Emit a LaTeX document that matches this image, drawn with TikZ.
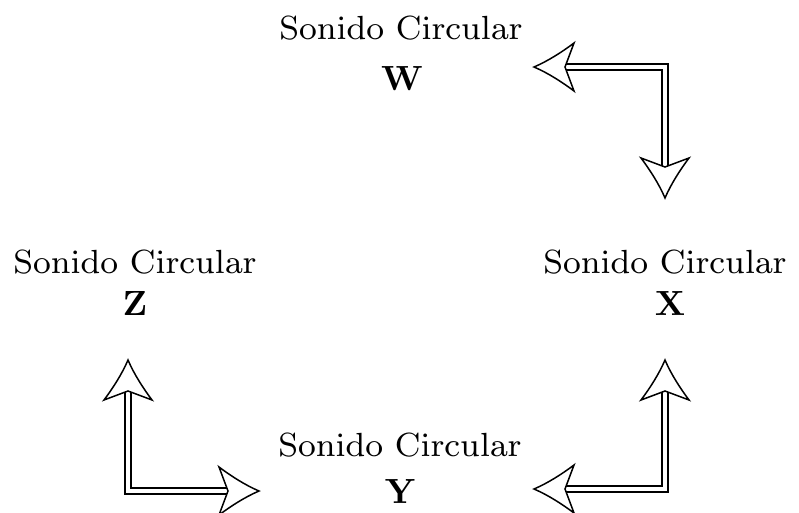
\documentclass[tikz,border=0pt]{standalone}
\font\sonfont=cmr8 at 33.5pt
\font\letfont=cmbx10 at 35pt
\tikzset{
  lab/.style={inner sep=0pt, anchor=base, font=\sonfont},
  let/.style={inner sep=0pt, anchor=base, font=\letfont},
  shaft/.style={draw=black, line width=1.5pt, double=white, double distance=4.2pt, line join=miter, shorten <=31pt, shorten >=31pt},
  pics/arrowhd/.style={code={
    \draw[line width=1.5pt, fill=white, line join=miter]
      (0,0) .. controls (-14,6) and (-28,15) .. (-40,24) -- (-31,0) -- (-40,-24)
      .. controls (-28,-15) and (-14,-6) .. cycle;
  }}
}
\begin{document}
\begin{tikzpicture}[x=1pt, y=-1pt]
\useasboundingbox (0,0) rectangle (799,512);
\node[lab] (wlab) at (401,39) {Sonido Circular};
\node[let] (wlet) at (402,90) {W};
\node[lab] (zlab) at (135,273) {Sonido Circular};
\node[let] (zlet) at (135,315) {Z};
\node[lab] (xlab) at (665,273) {Sonido Circular};
\node[let] (xlet) at (670,315) {X};
\node[lab] (ylab) at (400,456) {Sonido Circular};
\node[let] (ylet) at (400,503) {Y};
% arrow tips
\coordinate (wa) at (534,67);
\coordinate (xa) at (665,198);
\coordinate (ya) at (534,489);
\coordinate (xb) at (665,360);
\coordinate (zb) at (128,360);
\coordinate (yb) at (259,491);
\draw[shaft] (wa) -| (xa);
\draw[shaft] (ya) -| (xb);
\draw[shaft] (zb) |- (yb);
\pic[rotate=180] at (wa) {arrowhd};
\pic[rotate=-90] at (xa) {arrowhd};
\pic[rotate=180] at (ya) {arrowhd};
\pic[rotate=90] at (xb) {arrowhd};
\pic[rotate=90] at (zb) {arrowhd};
\pic at (yb) {arrowhd};
\end{tikzpicture}
\end{document}
